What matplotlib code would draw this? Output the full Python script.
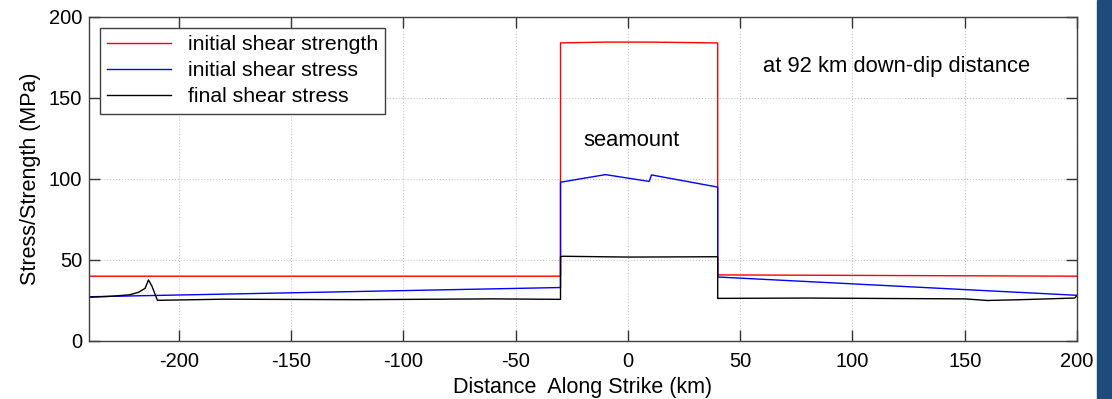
import numpy as np
import matplotlib.pyplot as plt
from matplotlib.patches import Rectangle

plt.rcParams['font.family'] = ['Liberation Sans', 'DejaVu Sans']
plt.rcParams['axes.unicode_minus'] = False

# along-strike profiles at 92 km down-dip
x_strength = [-240, -30, -30, -10, 10, 40, 40, 200]
strength = [40, 40, 184, 184.5, 184.5, 184, 40.8, 40]

x_stress = [-240, -30, -30, -10, 9.5, 10.5, 40, 40, 200]
stress = [27.3, 33, 98, 102.7, 98.5, 102.5, 95, 39.5, 28.2]

x_final = [-240, -230, -222, -218, -215, -213.5, -212, -209.5, -180, -120, -60,
           -30, -30, -29, 0, 40, 40, 41, 80, 120, 150, 160, 175, 199, 200]
final = [27, 27.6, 28.5, 30, 32.5, 37.7, 34, 25.1, 25.8, 25.5, 26,
         25.7, 52, 52.3, 51.8, 52, 26.3, 26.3, 26.5, 26.2, 26, 25, 25.5, 26.5, 28]

xticks = [-200, -150, -100, -50, 0, 50, 100, 150, 200]
yticks = [0, 50, 100, 150, 200]

fig = plt.figure(figsize=(11.12, 3.99), dpi=100)
ax = fig.add_axes([0.080, 0.1454, 0.8885, 0.812])

ax.plot(x_strength, strength, color='red', lw=1.0, label='initial shear strength')
ax.plot(x_stress, stress, color='blue', lw=1.0, label='initial shear stress')
ax.plot(x_final, final, color='black', lw=1.0, label='final shear stress')

ax.set_xlim(-240, 200)
ax.set_ylim(0, 200)
ax.set_xticks(xticks)
ax.set_yticks(yticks)
ax.grid(True, color='#c8c8c8', linestyle=':', linewidth=0.8)
ax.tick_params(direction='in', length=8, width=1.0, labelsize=14.5,
               top=True, right=True, color='#333333')
ax.tick_params(axis='x', pad=8)
ax.tick_params(axis='y', pad=5)
for s in ax.spines.values():
    s.set_color('#404040')
    s.set_linewidth(1.0)

ax.set_xlabel('Distance  Along Strike (km)', fontsize=15.5, labelpad=4)
ax.set_ylabel('Stress/Strength (MPa)', fontsize=15.5, labelpad=5.5)

ax.text(1.4, 124, 'seamount', fontsize=15.8, ha='center', va='center')
ax.text(60, 169.3, 'at 92 km down-dip distance', fontsize=15.8, ha='left', va='center')

leg = ax.legend(loc='upper left', fontsize=15.3, handlelength=3.0, borderpad=0.35,
                labelspacing=0.33, borderaxespad=0.5, fancybox=False,
                framealpha=1.0, edgecolor='#404040')
leg.get_frame().set_linewidth(1.0)

# blue strip on the right edge
fig.patches.append(Rectangle((1097 / 1112, 0), 1 - 1097 / 1112, 1,
                             transform=fig.transFigure, color='#1f4a7c', zorder=0))

fig.savefig('out.png', dpi=100)
